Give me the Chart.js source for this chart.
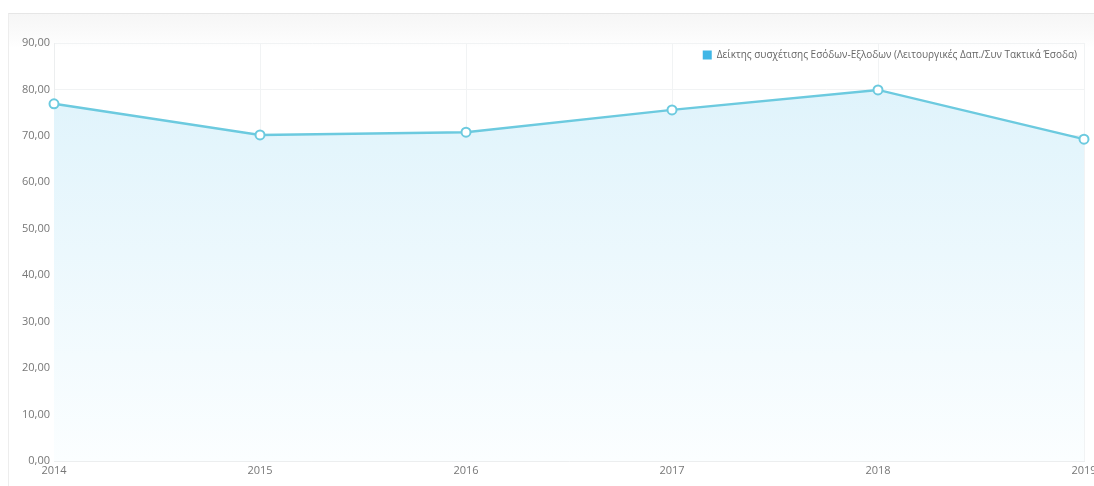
<!DOCTYPE html>
<html>
<head>
<meta charset="utf-8">
<script src="https://cdn.jsdelivr.net/npm/chart.js@4.4.1/dist/chart.umd.min.js"></script>
<style>
    html, body { margin: 0; padding: 0; background: #fff; overflow: hidden; }
    .panel {
        position: absolute; left: 8px; top: 13px; width: 1100px; height: 480px;
        border-top: 1px solid #e6e6e6; border-left: 1px solid #ededed;
        background: linear-gradient(to bottom, #f6f6f6 0px, #fbfbfb 22px, #fff 34px);
    }
    #lineChart { position: absolute; left: 0; top: 0; }
</style>
</head>
<body>
<div class="panel"></div>
<canvas id="lineChart" width="1110" height="486"></canvas>
<script>
const years = ['2014', '2015', '2016', '2017', '2018', '2019'];
const ratioValues = [76.9, 70.2, 70.8, 75.6, 79.9, 69.3];
const seriesLabel = 'Δείκτης συσχέτισης Εσόδων-Εξλοδων (Λειτουργικές Δαπ./Συν Τακτικά Έσοδα)';

const lineColor = '#6ccadf';
const gridColor = '#f1f3f4';

const fillGradient = (context) => {
    const { ctx, chartArea } = context.chart;
    if (!chartArea) return 'rgba(220,242,251,0.8)';
    const g = ctx.createLinearGradient(0, chartArea.top, 0, chartArea.bottom);
    g.addColorStop(0, '#dcf2fb');
    g.addColorStop(1, '#fbfeff');
    return g;
};

// legend sits on top of the plot area: no layout space, but keep a box to draw (it clips to it)
const overlayLegend = {
    id: 'overlayLegend',
    beforeLayout(chart) {
        const legend = chart.legend;
        if (!legend || legend._overlay) return;
        const fit = legend.fit.bind(legend);
        legend.fit = function () { fit(); this._realHeight = this.height; this.height = 0; };
        legend._overlay = true;
    },
    afterLayout(chart) {
        const legend = chart.legend;
        if (!legend) return;
        legend.height = legend._realHeight || 30;
        legend.bottom = legend.top + legend.height;
    }
};

new Chart(document.getElementById('lineChart'), {
    type: 'line',
    data: {
        labels: years,
        datasets: [{
            label: seriesLabel,
            data: ratioValues,
            borderColor: lineColor,
            borderWidth: 2.5,
            backgroundColor: fillGradient,
            fill: 'origin',
            tension: 0,
            pointRadius: 4.5,
            pointBorderWidth: 2,
            pointBackgroundColor: '#fff',
            pointBorderColor: lineColor
        }]
    },
    options: {
        responsive: false,
        animation: false,
        layout: { padding: { top: 43, right: 26, bottom: 0, left: 0 } },
        plugins: {
            tooltip: { enabled: false },
            legend: {
                position: 'top',
                align: 'end',
                labels: {
                    boxWidth: 9,
                    boxHeight: 9,
                    padding: 7,
                    color: '#666',
                    font: { family: 'Open Sans', size: 10 },
                    generateLabels: (chart) => {
                        const items = Chart.defaults.plugins.legend.labels.generateLabels(chart);
                        items.forEach(it => { it.fillStyle = '#3fb6e6'; it.strokeStyle = '#3fb6e6'; it.lineWidth = 0; });
                        return items;
                    }
                }
            }
        },
        scales: {
            x: {
                grid: { color: gridColor, drawTicks: false },
                border: { color: '#eceeef' },
                ticks: {
                    color: '#777',
                    padding: 3,
                    maxRotation: 0,
                    font: { family: 'Open Sans', size: 11 }
                },
                afterFit: (scale) => { scale.height = 25; }
            },
            y: {
                min: 0,
                max: 90,
                grid: { color: gridColor, drawTicks: false },
                border: { color: '#eceeef' },
                ticks: {
                    stepSize: 10,
                    color: '#777',
                    padding: 4,
                    font: { family: 'Open Sans', size: 11 },
                    callback: (v) => v.toFixed(2).replace('.', ',')
                },
                afterFit: (scale) => { scale.width = 54; }
            }
        }
    },
    plugins: [overlayLegend]
});
</script>
</body>
</html>
